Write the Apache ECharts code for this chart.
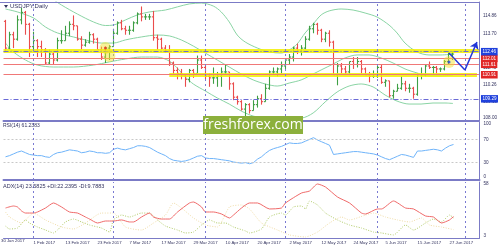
<!DOCTYPE html>
<html><head><meta charset="utf-8">
<script src="https://cdn.jsdelivr.net/npm/echarts@6/dist/echarts.min.js"></script>
<style>html,body{margin:0;padding:0;background:#fff}#c{width:500px;height:250px}</style>
</head><body><div id="c"></div>
<script>
// ---- data (daily bars, slot index 0 = 23 Jan 2017) ----
const opens  = [114.5,112.7,113.6,113.3,114.6,115.1,114.3,112.8,113.2,112.8,112.6,111.7,112.3,111.9,113.2,113.2,113.7,114.3,114.2,113.3,112.9,113.1,113.6,113.3,112.6,112.1,112.7,112.8,113.7,114.4,114.0,113.9,113.9,114.4,115.0,114.8,114.8,114.8,113.4,113.3,112.7,112.5,111.7,111.2,111.0,110.9,110.6,111.2,111.0,111.9,111.4,110.8,110.7,110.7,110.8,111.1,111.1,110.3,109.4,109.1,108.6,108.9,108.5,108.9,109.3,109.1,110.0,111.1,111.1,111.3,111.5,111.9,112.1,112.7,112.5,112.7,113.3,114.0,114.3,113.9,113.3,113.7,113.1,110.9,111.5,111.3,111.1,111.8,111.6,111.8,111.3,110.9,110.8,110.8,111.4,110.4,110.5,109.5,109.8,110.0,110.3,110.0,110.0,109.6,110.9,110.9,111.5,111.4,111.4,111.3,111.3,111.8,112.3];
const highs  = [114.6,113.8,113.8,114.9,115.4,115.2,114.4,113.8,113.3,113.2,112.7,112.6,112.4,113.4,113.9,114.2,114.5,114.9,114.2,113.5,113.3,113.8,113.7,113.4,112.8,112.8,112.9,114.0,114.5,114.6,114.2,114.2,114.5,115.1,115.5,115.0,115.0,115.2,113.6,113.4,112.9,112.9,111.8,111.4,111.3,110.9,111.3,111.3,112.2,112.2,111.6,111.0,111.4,111.1,111.4,111.6,111.1,110.4,109.5,109.2,109.0,109.0,109.2,109.5,109.6,110.3,111.2,111.4,111.4,111.8,112.0,112.3,112.8,113.0,112.9,113.5,114.2,114.4,114.4,114.0,113.8,113.9,113.2,111.7,111.7,111.5,111.8,112.1,112.1,111.9,111.4,111.1,111.2,111.5,111.6,110.6,110.5,109.9,110.3,110.8,110.5,110.3,110.1,111.0,111.4,111.6,111.8,111.5,111.5,111.4,111.9,112.5,112.5];
const lows   = [112.5,112.6,112.7,113.2,114.3,113.6,112.1,112.6,112.1,112.1,111.6,111.6,111.6,111.8,113.0,113.2,113.5,113.9,113.2,112.6,112.8,113.0,113.0,112.6,111.9,111.7,111.9,112.8,113.6,113.9,113.6,113.6,113.8,114.3,114.5,114.6,114.6,113.2,112.6,112.6,112.4,111.5,110.9,110.6,110.6,110.1,110.4,110.7,111.0,111.3,110.6,110.1,110.3,110.1,110.1,110.9,109.9,109.2,108.9,108.5,108.1,108.3,108.5,108.7,108.9,109.1,109.9,110.9,110.8,111.0,111.3,111.6,111.8,112.3,112.2,112.6,113.2,113.7,113.6,113.1,113.1,112.8,110.9,110.2,111.0,110.9,110.9,111.3,111.4,111.0,110.9,110.4,110.7,110.7,110.3,110.1,109.4,109.3,109.8,109.9,109.8,109.7,109.3,109.5,110.6,110.8,111.3,110.9,111.0,111.1,111.2,111.6,111.9];
const closes = [112.7,113.6,113.3,114.6,115.1,114.3,112.8,113.2,112.8,112.6,111.7,112.3,111.9,113.2,113.2,113.7,114.3,114.2,113.3,112.9,113.1,113.6,113.3,112.6,112.1,112.7,112.8,113.7,114.4,114.0,113.9,113.9,114.4,115.0,114.8,114.8,114.8,113.4,113.3,112.7,112.5,111.7,111.2,111.0,110.9,110.6,111.2,111.0,111.9,111.4,110.8,110.7,110.7,110.8,111.1,111.1,110.3,109.4,109.1,108.6,108.9,108.5,108.9,109.3,109.1,110.0,111.1,111.1,111.3,111.5,111.9,112.1,112.7,112.5,112.7,113.3,114.0,114.3,113.9,113.3,113.7,113.1,110.9,111.5,111.3,111.1,111.8,111.6,111.8,111.3,110.9,110.8,110.8,111.4,110.4,110.5,109.5,109.8,110.0,110.3,110.0,110.0,109.6,110.9,110.9,111.5,111.4,111.4,111.3,111.3,111.8,112.3,112.3];

// Bollinger bands: [slot, price]
const bbUpper  = [[11,116.14],[14,115.6],[18,114.99],[22,114.46],[25,114.22],[27,114.25],[30,114.59],[33,114.93],[36,115.13],[40,115.26],[43,115.47],[46,115.67],[49,115.73],[52,115.53],[54,115.13],[56,114.46],[58,113.58],[60,113.11],[63,112.71],[66,112.44],[69,112.37],[71,112.57],[73,112.98],[75,113.72],[77,114.32],[79,114.93],[81,115.2],[84,115.33],[87,115.26],[90,115.06],[93,114.79],[96,114.25],[98,113.72],[100,113.04],[103,112.44],[106,112.24],[109,112.24],[112,112.3]];
const bbMiddle = [[0,115.33],[3,115.13],[7,114.73],[10,114.12],[13,113.72],[17,113.45],[20,113.25],[24,113.04],[27,113.04],[30,113.25],[34,113.45],[38,113.58],[41,113.52],[44,113.25],[47,112.84],[50,112.37],[53,111.9],[56,111.43],[59,110.96],[62,110.56],[65,110.29],[68,110.15],[71,110.35],[74,110.56],[77,110.96],[79,111.23],[82,111.63],[85,112.04],[88,112.24],[91,112.24],[94,112.04],[97,111.7],[100,111.3],[103,111.03],[106,110.83],[109,110.83],[112,110.89]];
const bbLower  = [[0,113.04],[2,112.44],[5,111.9],[8,111.56],[12,111.43],[17,111.43],[22,111.56],[26,111.77],[30,111.97],[34,112.1],[38,112.1],[41,111.83],[43,111.36],[45,110.76],[47,110.29],[50,109.82],[53,109.35],[56,108.94],[59,108.47],[62,108.13],[65,108.0],[68,107.93],[71,108.0],[74,108.0],[77,108.34],[80,109.08],[83,109.75],[86,110.15],[89,110.29],[92,110.09],[95,109.55],[98,109.14],[101,108.94],[104,108.94],[107,109.01],[110,109.01],[112,108.98]];

const rsi = [40,42,45,48,50,47,44,43,42,42,40,39,44,47,48,50,52,51,50,47,48,50,49,47,47,46,47,53,55,53,52,54,56,59,59,58,56,52,48,45,42,37,34,33,32,33,35,38,41,42,38,37,37,36,35,34,33,31,30,29,30,28,30,36,40,46,51,54,56,58,61,64,63,63,64,67,70,73,69,66,63,60,44,45,46,47,48,49,49,48,47,46,45,43,40,37,35,38,41,44,43,41,39,50,50,51,52,53,52,50,55,59,61.24];

const adx     = [[0,32.6],[2,34.7],[3,33.7],[4,29.5],[5,27.3],[7,27.3],[8,28.4],[10,32.6],[12,37.9],[14,33.7],[16,28.4],[18,27.3],[20,23.1],[21,21.0],[23,16.8],[25,18.9],[27,18.9],[29,20.0],[31,17.9],[32,17.9],[34,23.1],[36,27.3],[37,23.1],[39,21.0],[41,21.0],[43,28.4],[46,37.9],[47,38.9],[49,33.7],[50,28.4],[52,28.4],[54,26.3],[56,22.1],[57,25.2],[59,32.6],[61,37.9],[63,37.9],[66,31.6],[69,32.6],[70,37.9],[74,48.4],[76,50.5],[78,57.9],[80,54.7],[83,44.2],[86,37.9],[89,27.3],[90,26.3],[93,31.6],[94,31.6],[97,40.0],[100,32.6],[102,31.6],[105,24.2],[107,23.1],[109,16.8],[111,20.0],[112,23.58]];
const plusDI  = [[0,13.6],[1,10.5],[3,11.5],[5,20.0],[6,16.8],[8,12.6],[10,9.4],[12,6.3],[13,9.4],[15,17.9],[17,21.0],[19,17.9],[21,14.7],[24,11.5],[26,7.3],[27,20.0],[29,25.2],[31,23.1],[34,27.3],[36,27.3],[38,20.0],[40,13.6],[43,9.4],[45,6.3],[47,7.3],[49,14.7],[51,20.0],[53,16.8],[55,16.8],[57,12.6],[60,8.4],[61,6.3],[64,10.5],[66,23.1],[69,27.3],[70,25.2],[72,33.7],[74,34.7],[75,31.6],[76,40.0],[78,35.8],[80,27.3],[83,20.0],[86,14.7],[89,11.5],[92,7.3],[94,6.3],[97,4.2],[100,14.7],[102,9.4],[105,16.8],[107,21.0],[109,17.9],[111,25.2],[112,22.24]];
const minusDI = [[0,28.4],[1,23.1],[4,16.8],[7,27.3],[10,20.0],[14,12.6],[17,10.5],[20,16.8],[24,27.3],[27,27.3],[30,12.6],[34,9.4],[37,16.8],[40,25.2],[42,37.9],[44,32.6],[47,22.1],[50,14.7],[53,12.6],[56,33.7],[59,35.8],[61,31.6],[64,16.8],[68,9.4],[71,4.2],[75,2.1],[78,7.3],[81,16.8],[84,23.1],[86,20.0],[90,25.2],[92,27.3],[95,23.1],[98,20.0],[101,17.9],[104,22.1],[106,14.7],[109,12.6],[112,9.79]];

const dateTicks = [[0,'30 Jan 2017'],[7,'1 Feb 2017'],[15,'13 Feb 2017'],[23,'23 Feb 2017'],[31,'7 Mar 2017'],[39,'17 Mar 2017'],[47,'29 Mar 2017'],[55,'10 Apr 2017'],[63,'20 Apr 2017'],[71,'2 May 2017'],[79,'12 May 2017'],[87,'24 May 2017'],[95,'5 Jun 2017'],[103,'15 Jun 2017'],[111,'27 Jun 2017']];
const monthStarts = [7,27,50,70,93,115];
const priceTicks = [114.86,113.70,112.55,111.40,110.26,109.10,108.00];
const redLevels = [112.01,111.61,110.91];
const blueLevels = [112.46,109.29];
const yellowFull = 112.50;
const yellowPart = {from:41, to:118, value:110.91};
const projection = [[111,112.37],[115,111.23],[118,113.11]];
const highlights = [[25,112.71,'#e83020'],[26,112.17,null],[111,111.77,'#2040e0']];
const rsiTicks = [100,70,30,0];
const rsiLevels = [70,30];
const adxTicks = [58,3];
const nSlots = 119;

// ---- chart ----
const FRAME = '#7b7bc6', TXT = '#33335f', FONT = 'Liberation Sans, Arial, sans-serif';
const slots = Array.from({length:nSlots}, (_, i) => String(i));
const barData = opens.map((o, i) => [i, o, highs[i], lows[i], closes[i]]);
const tickMap = new Map(dateTicks.slice(1));
const vLines = monthStarts.map(i => ({xAxis: String(i)}));
const vStyle = {color:'#7a7ad2', width:1, type:[2,3]};

const levelItems = [];
const yellowStyle = {color:'rgba(242,238,0,0.85)', width:4, type:'solid'};
levelItems.push({yAxis: yellowFull, lineStyle:yellowStyle, label:{show:false}});
levelItems.push([{coord:[yellowPart.from, yellowPart.value], lineStyle:yellowStyle, label:{show:false}},
                 {coord:[yellowPart.to, yellowPart.value], lineStyle:yellowStyle, label:{show:false}}]);
const boxLabel = (v, bg) => ({show:true, position:'end', distance:2, formatter: v.toFixed(2), backgroundColor:bg, color:'#fff', fontSize:4.6, fontFamily:FONT, padding:[1,1.5,1,1.5], lineHeight:5.5});
redLevels.forEach(v => levelItems.push({yAxis:v, lineStyle:{color:'#f07878', width:1, type:'solid'}, label:boxLabel(v,'#e02626')}));
blueLevels.forEach(v => levelItems.push({yAxis:v, lineStyle:{color:'#6a6ad6', width:1, type:[5,2,1,2]}, label:boxLabel(v,'#1f40dc')}));

const projItems = [
  [{coord:projection[0]},{coord:projection[1]}],
  [{coord:projection[1]},{coord:projection[2], symbol:'arrow', symbolSize:7}]
];

const option = {
  animation:false,
  backgroundColor:'#fff',
  textStyle:{fontFamily:FONT},
  title:[
    {text:'USDJPY,Daily', left:10, top:3, padding:0, textStyle:{fontSize:6, color:TXT, fontWeight:'normal', fontFamily:FONT}},
    {text:'RSI(14) 61.2383', left:3, top:123, padding:0, textStyle:{fontSize:5, color:TXT, fontWeight:'normal', fontFamily:FONT}},
    {text:'ADX(14) 23.5825 +DI:22.2395 -DI:9.7883', left:3, top:183, padding:0, textStyle:{fontSize:5.5, color:TXT, fontWeight:'normal', fontFamily:FONT}},
    {text:dateTicks[0][1], left:1, top:239, padding:0, textStyle:{fontSize:4.3, color:TXT, fontWeight:'normal', fontFamily:FONT}}
  ],
  grid:[
    {left:3.5, top:2, width:476, height:119},
    {left:3.5, top:122, width:476, height:58},
    {left:3.5, top:182, width:476, height:56}
  ],
  xAxis:[0,1,2].map(g => ({
    gridIndex:g, type:'category', data:slots, boundaryGap:true,
    axisLine:{show:true, lineStyle:{color:FRAME, width: g===2 ? 1 : 2}},
    axisTick:{show:false},
    splitLine:{show:false},
    axisLabel: g===2 ? {show:true, interval:(i)=>tickMap.has(i), formatter:(v,i)=>tickMap.get(i)||'', align:'left', fontSize:4.3, color:TXT, margin:3, fontFamily:FONT} : {show:false}
  })),
  yAxis:[
    {gridIndex:0, type:'value', position:'right', min:107.8, max:115.8, scale:true,
     axisLine:{show:true, lineStyle:{color:FRAME}}, axisTick:{show:false}, splitLine:{show:false},
     axisLabel:{customValues:priceTicks, formatter:v=>v.toFixed(2), fontSize:4.6, color:TXT, margin:4, fontFamily:FONT}},
    {gridIndex:1, type:'value', position:'right', min:0, max:100,
     axisLine:{show:true, lineStyle:{color:FRAME}}, axisTick:{show:false}, splitLine:{show:false},
     axisLabel:{customValues:rsiTicks, fontSize:4.6, color:TXT, margin:4, fontFamily:FONT,
       formatter:v=> v===0 ? '{b|0}' : v===100 ? '{t|100}' : String(v),
       rich:{b:{fontSize:4.6, padding:[0,0,7,0]}, t:{fontSize:4.6, padding:[4,0,0,0]}}}},
    {gridIndex:2, type:'value', position:'right', min:1, max:60,
     axisLine:{show:true, lineStyle:{color:FRAME}}, axisTick:{show:false}, splitLine:{show:false},
     axisLabel:{customValues:adxTicks, fontSize:4.6, color:TXT, margin:4, fontFamily:FONT}}
  ],
  series:[
    {type:'line', name:'levels', xAxisIndex:0, yAxisIndex:0, data:[], z:1,
     markLine:{silent:true, symbol:['none','none'], animation:false, data:[...levelItems, ...vLines.map(v=>Object.assign({lineStyle:vStyle, label:{show:false}}, v))]}},
    {type:'line', name:'bbUpper', xAxisIndex:0, yAxisIndex:0, data:bbUpper, showSymbol:false, smooth:0.3, lineStyle:{color:'#8ad4a4', width:1}, z:2, clip:true},
    {type:'line', name:'bbMiddle', xAxisIndex:0, yAxisIndex:0, data:bbMiddle, showSymbol:false, smooth:0.3, lineStyle:{color:'#8ad4a4', width:1}, z:2, clip:true},
    {type:'line', name:'bbLower', xAxisIndex:0, yAxisIndex:0, data:bbLower, showSymbol:false, smooth:0.3, lineStyle:{color:'#8ad4a4', width:1}, z:2, clip:true},
    {type:'custom', name:'bars', xAxisIndex:0, yAxisIndex:0, data:barData, z:4, clip:true,
     encode:{x:0, y:[1,2,3,4]},
     renderItem:(params, api) => {
       const i = api.value(0);
       const o = api.coord([i, api.value(1)]);
       const h = api.coord([i, api.value(2)]);
       const l = api.coord([i, api.value(3)]);
       const c = api.coord([i, api.value(4)]);
       const color = api.value(4) >= api.value(1) ? '#3f9f45' : '#ea4c4c';
       const x = Math.floor(h[0]) + 0.5;
       const st = {stroke:color, lineWidth:1.1};
       return {type:'group', children:[
         {type:'line', shape:{x1:x, y1:h[1], x2:x, y2:l[1]}, style:st},
         {type:'line', shape:{x1:x-1.6, y1:o[1], x2:x, y2:o[1]}, style:st},
         {type:'line', shape:{x1:x, y1:c[1], x2:x+1.6, y2:c[1]}, style:st}
       ]};
     }},
    {type:'scatter', name:'highlight', xAxisIndex:0, yAxisIndex:0, z:5,
     data:highlights.map(d=>[d[0], d[1]]), symbolSize:12, itemStyle:{color:'rgba(240,225,40,0.6)'}},
    {type:'scatter', name:'dots', xAxisIndex:0, yAxisIndex:0, z:6,
     data:highlights.filter(d=>d[2]).map(d=>({value:[d[0], d[1]], itemStyle:{color:d[2]}})), symbolSize:3},
    {type:'line', name:'projection', xAxisIndex:0, yAxisIndex:0, data:[], z:7,
     markLine:{silent:true, symbol:['none','none'], animation:false, lineStyle:{color:'#2236d8', width:1.5, type:'solid'}, label:{show:false}, data:projItems}},
    {type:'line', name:'RSI', xAxisIndex:1, yAxisIndex:1, data:rsi, showSymbol:false, lineStyle:{color:'#6fb4fa', width:1}, z:3,
     markLine:{silent:true, symbol:['none','none'], animation:false, label:{show:false},
       data:[...rsiLevels.map(v=>({yAxis:v, lineStyle:{color:'#c8c8c8', width:1, type:[2,2]}})), ...vLines.map(v=>Object.assign({lineStyle:vStyle}, v))]}},
    {type:'line', name:'ADX', xAxisIndex:2, yAxisIndex:2, data:adx, showSymbol:false, smooth:0.2, lineStyle:{color:'#f06a6a', width:1}, z:3,
     markLine:{silent:true, symbol:['none','none'], animation:false, label:{show:false}, data:vLines.map(v=>Object.assign({lineStyle:vStyle}, v))}},
    {type:'line', name:'+DI', xAxisIndex:2, yAxisIndex:2, data:plusDI, showSymbol:false, smooth:0.2, lineStyle:{color:'#b2cc6a', width:1, type:[1,1.5]}, z:2},
    {type:'line', name:'-DI', xAxisIndex:2, yAxisIndex:2, data:minusDI, showSymbol:false, smooth:0.2, lineStyle:{color:'#efdca8', width:1, type:[1,1.5]}, z:2}
  ],
  graphic:[
    {type:'line', shape:{x1:0, y1:2.5, x2:480, y2:2.5}, style:{stroke:FRAME, lineWidth:1}, z:10},
    {type:'polygon', shape:{points:[[4,5],[8,5],[6,8]]}, style:{fill:'#33335f'}, z:10},
    {type:'rect', shape:{x:203, y:116, width:100, height:18}, style:{fill:'#8cb03c'}, z:20},
    {type:'text', x:253, y:125, style:{text:'freshforex.com', fill:'#fff', fontSize:14, fontFamily:'Open Sans, sans-serif', align:'center', verticalAlign:'middle'}, z:21}
  ]
};
const chart = echarts.init(document.getElementById('c'), null, {renderer:'canvas', width:500, height:250});
chart.setOption(option);
</script></body></html>
